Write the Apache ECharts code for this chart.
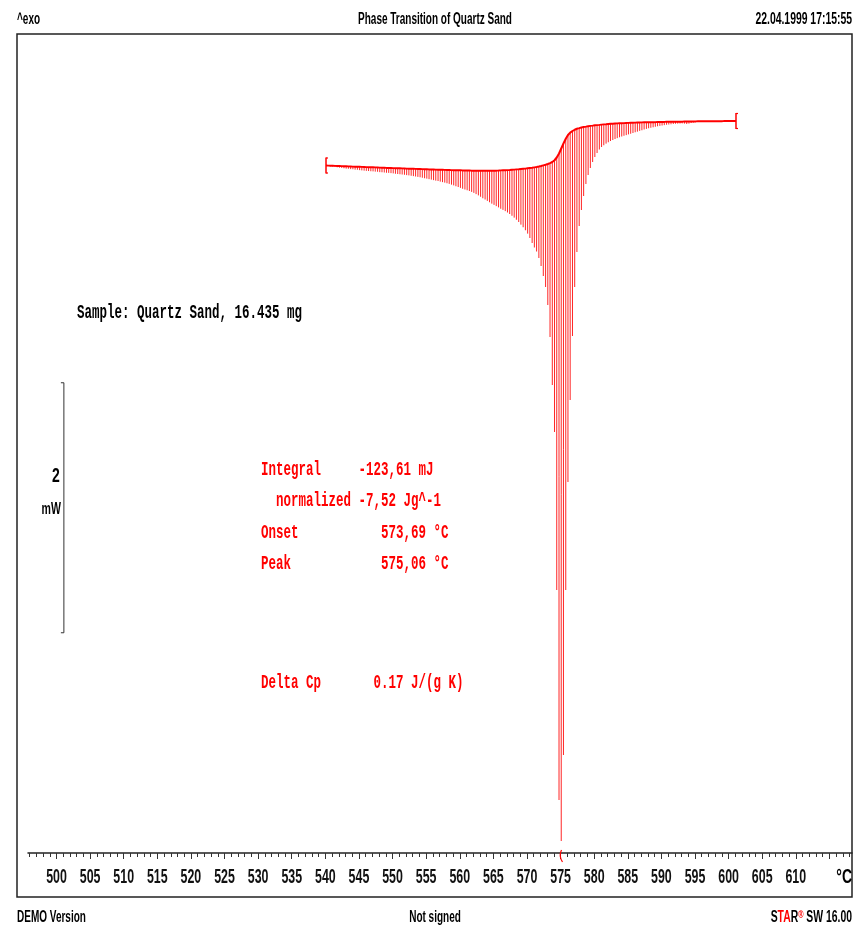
<!DOCTYPE html>
<html>
<head>
<meta charset="utf-8">
<script src="https://cdn.jsdelivr.net/npm/echarts@6/dist/echarts.min.js"></script>
<style>
html,body{margin:0;padding:0;background:#fff;}
#chart{width:854px;height:928px;}
</style>
</head>
<body>
<div id="chart"></div>
<script>
// Temperature (°C) of each sample of the integrated DSC curve
const temperature = [
540.1,540.43,540.77, 541.1,541.43,541.77, 542.1,542.43,542.77, 543.1,543.43,543.77, 544.1,544.43,544.77,
545.1,545.43,545.77, 546.1,546.43,546.77, 547.1,547.43,547.77, 548.1,548.43,548.77, 549.1,549.43,549.77,
550.1,550.43,550.77, 551.1,551.43,551.77, 552.1,552.43,552.77, 553.1,553.43,553.77, 554.1,554.43,554.77,
555.1,555.43,555.77, 556.1,556.43,556.77, 557.1,557.43,557.77, 558.1,558.43,558.77, 559.1,559.43,559.77,
560.1,560.43,560.77, 561.1,561.43,561.77, 562.1,562.43,562.77, 563.1,563.43,563.77, 564.1,564.43,564.77,
565.1,565.43,565.77, 566.1,566.43,566.77, 567.1,567.43,567.77, 568.1,568.43,568.77, 569.1,569.43,569.77,
570.1,570.43,570.77, 571.1,571.43,571.77, 572.1,572.43,572.77, 573.1,573.43,573.77, 574.1,574.43,574.77,
575.1,575.43,575.77, 576.1,576.43,576.77, 577.1,577.43,577.77, 578.1,578.43,578.77, 579.1,579.43,579.77,
580.1,580.43,580.77, 581.1,581.43,581.77, 582.1,582.43,582.77, 583.1,583.43,583.77, 584.1,584.43,584.77,
585.1,585.43,585.77, 586.1,586.43,586.77, 587.1,587.43,587.77, 588.1,588.43,588.77, 589.1,589.43,589.77,
590.1,590.43,590.77, 591.1,591.43,591.77, 592.1,592.43,592.77, 593.1,593.43,593.77, 594.1,594.43,594.77,
595.1,595.43,595.77, 596.1,596.43,596.77, 597.1,597.43,597.77, 598.1,598.43,598.77, 599.1,599.43,599.77,
600.1,600.43,600.77, 601.1
];

// DSC heat flow signal (mW)
const heatFlow = [
-1.324,-1.327,-1.330, -1.333,-1.335,-1.338, -1.341,-1.343,-1.346, -1.349,-1.350,-1.353, -1.354,-1.357,-1.358,
-1.361,-1.363,-1.365, -1.367,-1.368,-1.370, -1.371,-1.373,-1.374, -1.377,-1.378,-1.380, -1.382,-1.383,-1.385,
-1.387,-1.390,-1.392, -1.394,-1.396,-1.398, -1.401,-1.403,-1.406, -1.409,-1.412,-1.415, -1.418,-1.422,-1.426,
-1.429,-1.433,-1.437, -1.441,-1.445,-1.448, -1.453,-1.457,-1.461, -1.466,-1.471,-1.477, -1.483,-1.490,-1.496,
-1.503,-1.510,-1.516, -1.522,-1.528,-1.535, -1.543,-1.553,-1.563, -1.574,-1.586,-1.596, -1.607,-1.618,-1.629,
-1.639,-1.649,-1.659, -1.670,-1.679,-1.689, -1.700,-1.712,-1.726, -1.741,-1.758,-1.776, -1.797,-1.818,-1.842,
-1.869,-1.904,-1.944, -1.980,-2.012,-2.064, -2.128,-2.208,-2.296, -2.440,-2.696,-3.080, -3.456,-4.720,-6.400,
-6.728,-6.040,-4.720, -3.856,-3.200,-2.688, -2.296,-2.016,-1.808, -1.680,-1.568,-1.472, -1.400,-1.344,-1.296,
-1.256,-1.224,-1.196, -1.176,-1.162,-1.149, -1.138,-1.128,-1.120, -1.112,-1.105,-1.098, -1.092,-1.086,-1.081,
-1.075,-1.070,-1.064, -1.058,-1.053,-1.047, -1.042,-1.036,-1.031, -1.026,-1.022,-1.018, -1.014,-1.010,-1.007,
-1.004,-1.001,-0.998, -0.996,-0.994,-0.992, -0.990,-0.989,-0.988, -0.987,-0.989,-0.992, -0.989,-0.984,-0.980,
-0.978,-0.976,-0.974, -0.973,-0.972,-0.971, -0.970,-0.970,-0.970, -0.970,-0.970,-0.969, -0.969,-0.969,-0.968,
-0.968,-0.968,-0.968, -0.968
];

// Sigmoidal integration baseline (mW)
const baseline = [
-1.324,-1.325,-1.326, -1.326,-1.327,-1.328, -1.328,-1.329,-1.330, -1.330,-1.331,-1.332, -1.333,-1.334,-1.334,
-1.334,-1.335,-1.336, -1.337,-1.338,-1.338, -1.338,-1.339,-1.340, -1.341,-1.342,-1.342, -1.343,-1.343,-1.344,
-1.345,-1.346,-1.346, -1.346,-1.347,-1.348, -1.349,-1.350,-1.350, -1.350,-1.351,-1.352, -1.352,-1.353,-1.354,
-1.354,-1.355,-1.355, -1.356,-1.357,-1.358, -1.358,-1.358,-1.359, -1.360,-1.360,-1.361, -1.362,-1.362,-1.362,
-1.362,-1.363,-1.363, -1.364,-1.364,-1.365, -1.365,-1.365,-1.366, -1.366,-1.366,-1.366, -1.366,-1.366,-1.365,
-1.365,-1.365,-1.364, -1.363,-1.362,-1.362, -1.361,-1.360,-1.358, -1.357,-1.355,-1.354, -1.352,-1.350,-1.349,
-1.346,-1.344,-1.342, -1.339,-1.336,-1.332, -1.328,-1.323,-1.318, -1.312,-1.305,-1.296, -1.282,-1.260,-1.228,
-1.188,-1.148,-1.110, -1.080,-1.061,-1.048, -1.038,-1.030,-1.025, -1.020,-1.016,-1.013, -1.010,-1.007,-1.005,
-1.002,-1.001,-0.999, -0.997,-0.995,-0.994, -0.992,-0.990,-0.990, -0.988,-0.987,-0.986, -0.986,-0.985,-0.984,
-0.983,-0.982,-0.982, -0.981,-0.980,-0.980, -0.979,-0.978,-0.978, -0.978,-0.978,-0.977, -0.977,-0.976,-0.976,
-0.975,-0.975,-0.974, -0.974,-0.974,-0.974, -0.974,-0.973,-0.973, -0.973,-0.972,-0.972, -0.972,-0.971,-0.971,
-0.971,-0.970,-0.970, -0.970,-0.970,-0.970, -0.970,-0.969,-0.969, -0.969,-0.969,-0.969, -0.969,-0.968,-0.968,
-0.968,-0.968,-0.968, -0.968
];

// Axis tick labels (°C) and major tick positions
const tickLabels = [500,505,510,515,520,525,530,535,540,545,550,555,560,565,570,575,580,585,590,595,600,605,610];
const majorTicks = [500,505,510,515,520,525,530,535,540,545,550,555,560,565,570,575,580,585,590,595,600,605,610,615];
const minorTicks = [];
for (let t = 496; t <= 618; t++) minorTicks.push(t);

// Evaluation results
const peakTemperature = 575.06;
const scaleBar = [[501.1, -3.062, -5.062]]; // 2 mW bar: [°C, top mW, bottom mW]

const X_MIN = 495.76, X_MAX = 618.36;
const Y_MIN = -6.824, Y_MAX = -0.272;

const SANS = '"Liberation Sans Narrow","Liberation Sans",Arial,sans-serif';
const MONO = '"Liberation Mono","DejaVu Sans Mono",monospace';
const RED = '#ff0000';

const hatchData = temperature.map((t, i) => [t, baseline[i], heatFlow[i]]);
const baseData = temperature.map((t, i) => [t, baseline[i]]);
const endData = [baseData[0], baseData[baseData.length - 1]];
const labelData = tickLabels.map(v => [v, Y_MIN]);

function sansText(x, y, text, align, sx) {
  return {
    type: 'text', x: x, y: y, scaleX: sx || 0.625,
    style: {
      text: text, font: 'bold 16px ' + SANS, fill: '#000',
      align: align, textAlign: align, verticalAlign: 'middle', textVerticalAlign: 'middle'
    }
  };
}
function monoText(x, y, text, color) {
  return {
    type: 'text', x: x, y: y, scaleX: 0.595,
    style: {
      text: text, font: 'bold 21px ' + MONO, fill: color,
      align: 'left', textAlign: 'left', verticalAlign: 'middle', textVerticalAlign: 'middle'
    }
  };
}

const chart = echarts.init(document.getElementById('chart'), null, {renderer: 'canvas'});
const option = {
  animation: false,
  backgroundColor: '#fff',
  grid: {left: 28, right: 2, top: 34, bottom: 75, containLabel: false},
  xAxis: [{
    type: 'value', min: X_MIN, max: X_MAX, position: 'bottom', gridIndex: 0,
    axisLine: {show: true, lineStyle: {color: '#222', width: 1.5}},
    axisTick: {show: true, length: 4, customValues: minorTicks, lineStyle: {color: '#333', width: 1}},
    axisLabel: {show: false},
    splitLine: {show: false}
  }, {
    type: 'value', min: X_MIN, max: X_MAX, position: 'bottom', gridIndex: 0,
    axisLine: {show: false},
    axisTick: {show: true, length: 6, customValues: majorTicks, lineStyle: {color: '#333', width: 1}},
    axisLabel: {show: false},
    splitLine: {show: false}
  }],
  yAxis: {type: 'value', min: Y_MIN, max: Y_MAX, show: false},
  series: [{
    name: 'hatch', type: 'custom', xAxisIndex: 0, data: hatchData, z: 2,
    encode: {x: 0, y: [1, 2]},
    renderItem: function (params, api) {
      const t = api.value(0);
      const p1 = api.coord([t, api.value(1)]);
      const p2 = api.coord([t, api.value(2)]);
      return {type: 'line', shape: {x1: p1[0], y1: p1[1], x2: p2[0], y2: p2[1]},
        style: {stroke: '#ff2626', lineWidth: 1}};
    }
  }, {
    name: 'baseline', type: 'line', xAxisIndex: 0, data: baseData, z: 3,
    showSymbol: false, symbol: 'none', smooth: false,
    lineStyle: {color: RED, width: 2}
  }, {
    name: 'limits', type: 'custom', xAxisIndex: 0, data: endData, z: 4,
    renderItem: function (params, api) {
      const c = api.coord([api.value(0), api.value(1)]);
      const x = c[0], y = c[1];
      return {type: 'group', children: [
        {type: 'line', shape: {x1: x, y1: y - 8, x2: x, y2: y + 8}, style: {stroke: RED, lineWidth: 1.5}},
        {type: 'line', shape: {x1: x, y1: y - 7.5, x2: x + 2, y2: y - 7.5}, style: {stroke: RED, lineWidth: 1.2}},
        {type: 'line', shape: {x1: x, y1: y + 7.5, x2: x + 2, y2: y + 7.5}, style: {stroke: RED, lineWidth: 1.2}}
      ]};
    }
  }, {
    name: 'scale', type: 'custom', xAxisIndex: 0, data: scaleBar, z: 4,
    encode: {x: 0, y: [1, 2]},
    renderItem: function (params, api) {
      const t = api.coord([api.value(0), api.value(1)]);
      const b = api.coord([api.value(0), api.value(2)]);
      const x = t[0];
      const mid = (t[1] + b[1]) / 2;
      return {type: 'group', children: [
        {type: 'line', shape: {x1: x, y1: t[1], x2: x, y2: b[1]}, style: {stroke: '#333', lineWidth: 1}},
        {type: 'line', shape: {x1: x - 3, y1: t[1], x2: x, y2: t[1]}, style: {stroke: '#333', lineWidth: 1}},
        {type: 'line', shape: {x1: x - 3, y1: b[1], x2: x, y2: b[1]}, style: {stroke: '#333', lineWidth: 1}},
        {type: 'text', x: x - 4, y: mid - 31, scaleX: 0.7,
          style: {text: '2', font: 'bold 20px ' + SANS, fill: '#000', align: 'right', verticalAlign: 'middle'}},
        {type: 'text', x: x - 3, y: mid + 2, scaleX: 0.62,
          style: {text: 'mW', font: 'bold 17px ' + SANS, fill: '#000', align: 'right', verticalAlign: 'middle'}}
      ]};
    }
  }, {
    name: 'peak', type: 'custom', xAxisIndex: 0, data: [[peakTemperature, Y_MIN]], z: 5,
    renderItem: function (params, api) {
      const c = api.coord([api.value(0), api.value(1)]);
      const x = c[0], y = c[1];
      return {type: 'bezierCurve', shape: {x1: x + 0.5, y1: y - 3, cpx1: x - 2.5, cpy1: y + 3, x2: x + 1.5, y2: y + 9},
        style: {stroke: RED, lineWidth: 1.2, fill: null}};
    }
  }, {
    name: 'tickLabels', type: 'custom', xAxisIndex: 0, data: labelData, z: 5,
    renderItem: function (params, api) {
      const c = api.coord([api.value(0), api.value(1)]);
      return {type: 'text', x: c[0], y: c[1] + 24, scaleX: 0.62,
        style: {text: String(api.value(0)), font: 'bold 20px ' + SANS, fill: '#111',
          align: 'center', verticalAlign: 'middle'}};
    }
  }],
  graphic: [
    {type: 'rect', shape: {x: 17, y: 34, width: 835, height: 863}, style: {fill: null, stroke: '#222', lineWidth: 1.5}, z: 0},
    sansText(17, 20, '^exo', 'left'),
    sansText(435, 20, 'Phase Transition of Quartz Sand', 'center'),
    sansText(852, 20, '22.04.1999 17:15:55', 'right', 0.65),
    sansText(17, 918, 'DEMO Version', 'left'),
    sansText(435, 918, 'Not signed', 'center'),
    {type: 'text', x: 852, y: 918, scaleX: 0.65,
      style: {text: '{k|S}{r|TA}{k|R}{s|®}{k| SW 16.00}', font: 'bold 16px ' + SANS,
        align: 'right', textAlign: 'right', verticalAlign: 'middle', textVerticalAlign: 'middle',
        rich: {
          k: {fill: '#000', color: '#000', font: 'bold 16px ' + SANS},
          r: {fill: RED, color: RED, font: 'bold 16px ' + SANS},
          s: {fill: RED, color: RED, font: 'bold 11px ' + SANS, verticalAlign: 'top', padding: [0, 0, 6, 0]}
        }}},
    {type: 'text', x: 852, y: 877, scaleX: 0.7,
      style: {text: '°C', font: 'bold 20px ' + SANS, fill: '#000', align: 'right', textAlign: 'right', verticalAlign: 'middle', textVerticalAlign: 'middle'}},
    monoText(77, 313, 'Sample: Quartz Sand, 16.435 mg', '#000'),
    monoText(261, 470, 'Integral     -123,61 mJ', RED),
    monoText(276, 501, 'normalized -7,52 Jg^-1', RED),
    monoText(261, 533, 'Onset           573,69 °C', RED),
    monoText(261, 564, 'Peak            575,06 °C', RED),
    monoText(261, 683, 'Delta Cp       0.17 J/(g K)', RED)
  ]
};
chart.setOption(option);
</script>
</body>
</html>
